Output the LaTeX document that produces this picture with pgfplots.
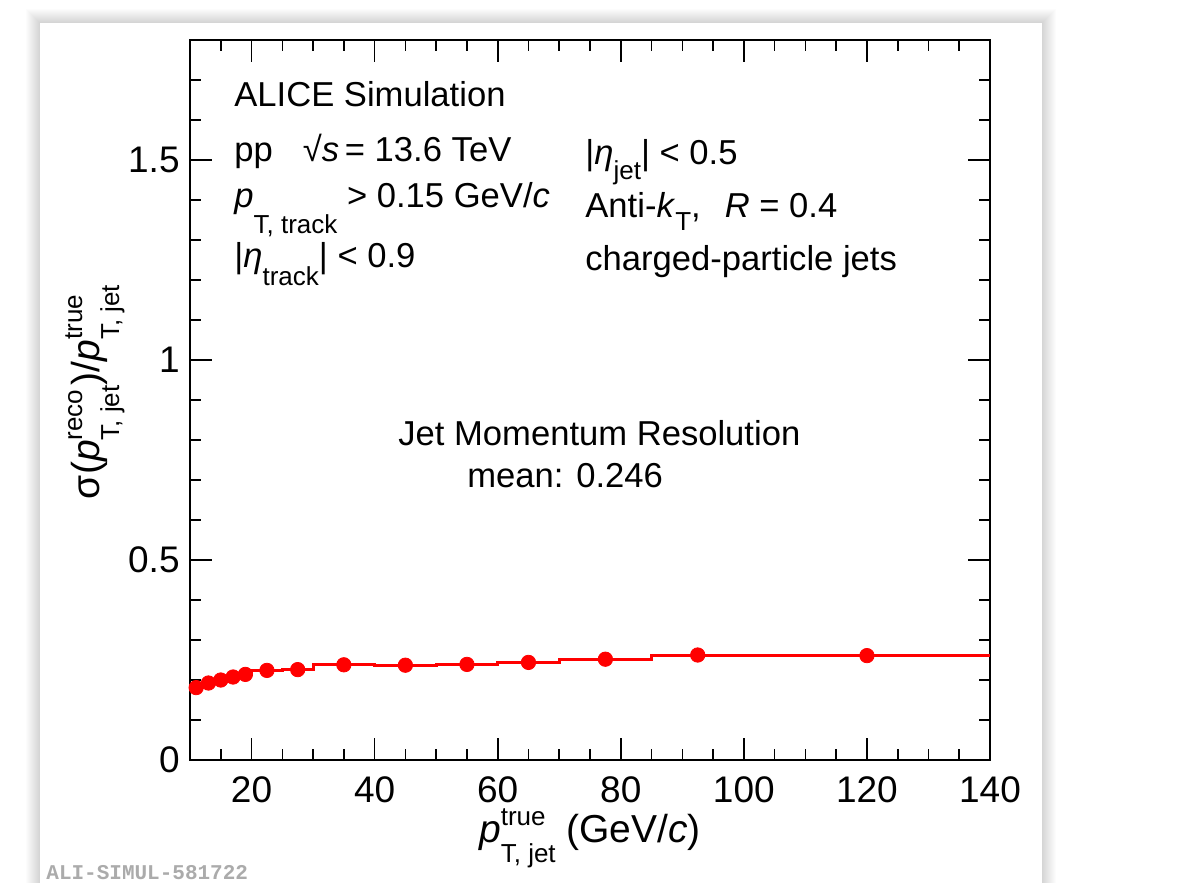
\documentclass[border=0pt]{standalone}
\usepackage{pgfplots}
\pgfplotsset{compat=1.18}
\usepackage{fontspec}
\setmainfont{Liberation Sans}
\newfontfamily\monofont{Liberation Mono}

% ROOT-like sub/superscripts
\newcommand{\lo}[2]{\raisebox{-#1}{\fontsize{13}{13}\selectfont #2}}
\newcommand{\hi}[2]{\raisebox{#1}{\fontsize{13}{13}\selectfont #2}}
\newcommand{\pjet}[1]{\textit{p}\rlap{\hi{8.5pt}{#1}}\lo{10pt}{T, jet}}

\begin{document}
\begin{tikzpicture}
\useasboundingbox (0,0) rectangle (598.5pt,-441pt);
% card with soft shadow
\begin{scope}[x=0.5pt,y=-0.5pt]
\foreach \d in {14,13,...,1} \fill[black,opacity=0.012] (40-\d,23-\d) rectangle (1042+\d,900);
\fill[white] (40,23) rectangle (1042,900);
\end{scope}

\begin{axis}[
    at={(95pt,-380pt)}, anchor=south west,
    scale only axis, width=400pt, height=360pt,
    xmin=10, xmax=140, ymin=0, ymax=1.8,
    axis line style={line width=1pt},
    tick align=inside,
    every tick/.style={black, line width=0.8pt},
    major tick length=11pt, minor tick length=5.5pt,
    xtick={20,40,...,140},
    minor xtick={10,15,...,140},
    ytick={0,0.5,1,1.5},
    minor ytick={0.1,0.2,0.3,0.4,0.6,0.7,0.8,0.9,1.1,1.2,1.3,1.4,1.6,1.7,1.8},
    /pgf/number format/assume math mode=true,
    tick label style={font=\fontsize{18.5}{20}\selectfont},
    xticklabel style={anchor=base, yshift=-21pt},
    yticklabel style={anchor=east, inner sep=0pt, xshift=-5pt},
]
% histogram steps over the bins
\addplot[const plot mark left, red, line width=1.5pt] coordinates {
(10,0.181)(12,0.1925)(14,0.200)(16,0.2075)(18,0.214)(20,0.224)(25,0.226)
(30,0.238)(40,0.237)(50,0.239)(60,0.244)(70,0.252)(85,0.2625)(100,0.261)(140,0.261)
};
% bin centres
\addplot[only marks, mark=*, mark size=3.6pt, red, mark options={fill=red, draw=red}] coordinates {
(11,0.181)(13,0.1925)(15,0.200)(17,0.2075)(19,0.214)(22.5,0.224)(27.5,0.226)
(35,0.238)(45,0.237)(55,0.239)(65,0.244)(77.5,0.252)(92.5,0.2625)(120,0.261)
};
\end{axis}

\begin{scope}[x=0.5pt,y=-0.5pt, every node/.style={inner sep=0pt}, font=\fontsize{17.3}{20}\selectfont]
\node[anchor=base west] at (234,107) {ALICE Simulation};
\node[anchor=base west] at (234,162) {pp\hspace{15pt}√\textit{s}\,= 13.6 TeV};
\node[anchor=base west] at (234,207) {\textit{p}\lo{13pt}{T, track} > 0.15 GeV/\textit{c}};
\node[anchor=base west] at (234,267) {|\textit{η}\lo{9pt}{track}| < 0.9};
\node[anchor=base west] at (585,165) {|\textit{η}\lo{7.5pt}{jet}| < 0.5};
\node[anchor=base west] at (585,218) {Anti-\textit{k}\lo{6pt}{T},\hspace{12pt}\textit{R} = 0.4};
\node[anchor=base west] at (585,270) {charged-particle jets};
\node[anchor=base west] at (398,445) {Jet Momentum Resolution};
\node[anchor=base west] at (467,487) {mean: 0.246};
% axis titles
\node[anchor=base, font=\fontsize{19.5}{22}\selectfont] at (590,842) {\pjet{true}\ (GeV/\textit{c})};
\node[anchor=base, rotate=90, font=\fontsize{19.5}{22}\selectfont] at (99,392) {σ(\pjet{reco})/\pjet{true}};
% figure id
\node[anchor=base west, text=black!33, font=\monofont\bfseries\fontsize{10.5}{12}\selectfont] at (46,879) {ALI-SIMUL-581722};
\end{scope}
\end{tikzpicture}
\end{document}
